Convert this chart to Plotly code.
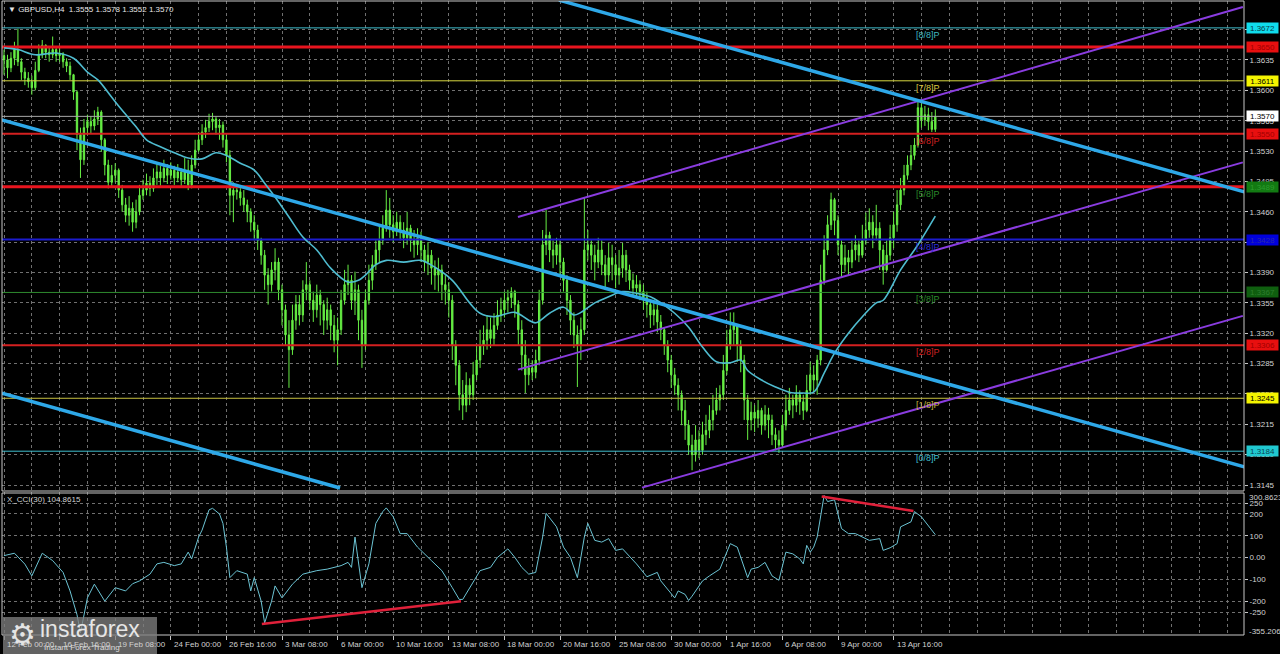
import plotly.graph_objects as go

# ---------------- DATA ----------------
first_open = 1.3640
closes = [
1.3635,1.3626,1.3637,1.3647,1.3633,1.3621,1.3614,1.3610,1.3603,1.3623,
1.3641,1.3652,1.3644,1.3641,1.3647,1.3640,1.3642,1.3633,1.3628,1.3618,
1.3598,1.3549,1.3520,1.3557,1.3564,1.3559,1.3567,1.3575,1.3543,1.3514,
1.3494,1.3502,1.3508,1.3485,1.3468,1.3456,1.3464,1.3448,1.3460,1.3479,
1.3485,1.3493,1.3487,1.3499,1.3506,1.3499,1.3510,1.3502,1.3508,1.3499,
1.3506,1.3497,1.3508,1.3491,1.3514,1.3531,1.3543,1.3552,1.3557,1.3564,
1.3567,1.3557,1.3560,1.3543,1.3525,1.3479,1.3485,1.3483,1.3476,1.3468,
1.3460,1.3448,1.3439,1.3427,1.3410,1.3387,1.3376,1.3393,1.3402,1.3370,
1.3347,1.3318,1.3301,1.3335,1.3353,1.3341,1.3370,1.3376,1.3358,1.3347,
1.3364,1.3353,1.3335,1.3347,1.3329,1.3312,1.3324,1.3358,1.3376,1.3381,
1.3358,1.3370,1.3335,1.3306,1.3358,1.3381,1.3399,1.3416,1.3427,1.3441,
1.3462,1.3445,1.3437,1.3448,1.3439,1.3430,1.3441,1.3427,1.3422,1.3430,
1.3416,1.3402,1.3410,1.3395,1.3387,1.3393,1.3376,1.3370,1.3358,1.3306,
1.3283,1.3249,1.3237,1.3260,1.3249,1.3272,1.3289,1.3306,1.3312,1.3324,
1.3314,1.3329,1.3341,1.3347,1.3358,1.3361,1.3368,1.3353,1.3324,1.3295,
1.3272,1.3280,1.3275,1.3289,1.3358,1.3422,1.3433,1.3416,1.3410,1.3422,
1.3402,1.3381,1.3358,1.3335,1.3318,1.3306,1.3324,1.3416,1.3422,1.3410,
1.3402,1.3416,1.3399,1.3387,1.3407,1.3399,1.3387,1.3395,1.3410,1.3393,
1.3381,1.3372,1.3376,1.3368,1.3361,1.3353,1.3341,1.3347,1.3333,1.3324,
1.3306,1.3289,1.3272,1.3260,1.3249,1.3231,1.3214,1.3191,1.3180,1.3197,
1.3185,1.3203,1.3208,1.3220,1.3231,1.3243,1.3249,1.3277,1.3306,1.3324,
1.3329,1.3306,1.3289,1.3243,1.3220,1.3229,1.3222,1.3231,1.3214,1.3226,
1.3220,1.3203,1.3197,1.3191,1.3214,1.3231,1.3243,1.3237,1.3249,1.3241,
1.3231,1.3254,1.3272,1.3266,1.3289,1.3381,1.3416,1.3445,1.3474,1.3450,
1.3422,1.3399,1.3407,1.3402,1.3416,1.3422,1.3410,1.3427,1.3439,1.3448,
1.3433,1.3441,1.3416,1.3393,1.3410,1.3430,1.3445,1.3468,1.3485,1.3502,
1.3514,1.3525,1.3537,1.3580,1.3566,1.3572,1.3564,1.3555,1.3570]
highs = [
1.3647,1.3641,1.3644,1.3656,1.3671,1.3637,1.3626,1.3621,1.3617,1.3633,
1.3653,1.3658,1.3653,1.3649,1.3662,1.3651,1.3649,1.3644,1.3637,1.3633,
1.3619,1.3600,1.3557,1.3567,1.3572,1.3570,1.3577,1.3581,1.3577,1.3545,
1.3520,1.3514,1.3516,1.3510,1.3491,1.3476,1.3478,1.3471,1.3474,1.3491,
1.3497,1.3504,1.3501,1.3510,1.3517,1.3513,1.3520,1.3515,1.3517,1.3513,
1.3515,1.3510,1.3522,1.3520,1.3525,1.3543,1.3552,1.3561,1.3566,1.3573,
1.3574,1.3570,1.3567,1.3564,1.3549,1.3531,1.3494,1.3492,1.3490,1.3485,
1.3474,1.3464,1.3456,1.3445,1.3430,1.3416,1.3395,1.3402,1.3418,1.3407,
1.3376,1.3353,1.3335,1.3353,1.3364,1.3364,1.3381,1.3402,1.3381,1.3368,
1.3376,1.3370,1.3358,1.3361,1.3353,1.3341,1.3338,1.3370,1.3393,1.3399,
1.3387,1.3391,1.3376,1.3347,1.3370,1.3399,1.3410,1.3427,1.3445,1.3456,
1.3485,1.3476,1.3456,1.3460,1.3456,1.3448,1.3460,1.3445,1.3439,1.3441,
1.3437,1.3422,1.3425,1.3416,1.3404,1.3407,1.3399,1.3387,1.3379,1.3364,
1.3312,1.3289,1.3266,1.3275,1.3268,1.3287,1.3306,1.3324,1.3329,1.3341,
1.3338,1.3343,1.3358,1.3361,1.3368,1.3370,1.3373,1.3370,1.3358,1.3335,
1.3312,1.3291,1.3289,1.3301,1.3370,1.3439,1.3462,1.3437,1.3427,1.3430,
1.3427,1.3407,1.3387,1.3364,1.3344,1.3329,1.3338,1.3477,1.3439,1.3427,
1.3422,1.3430,1.3427,1.3410,1.3424,1.3422,1.3410,1.3416,1.3424,1.3416,
1.3399,1.3389,1.3387,1.3381,1.3376,1.3368,1.3358,1.3358,1.3353,1.3341,
1.3326,1.3312,1.3295,1.3280,1.3268,1.3254,1.3243,1.3220,1.3203,1.3214,
1.3208,1.3218,1.3226,1.3237,1.3249,1.3257,1.3260,1.3295,1.3324,1.3344,
1.3344,1.3329,1.3312,1.3295,1.3249,1.3241,1.3237,1.3243,1.3234,1.3237,
1.3234,1.3226,1.3211,1.3208,1.3226,1.3249,1.3257,1.3249,1.3260,1.3254,
1.3249,1.3272,1.3287,1.3283,1.3295,1.3399,1.3433,1.3456,1.3482,1.3476,
1.3456,1.3427,1.3422,1.3416,1.3427,1.3433,1.3427,1.3445,1.3459,1.3464,
1.3456,1.3468,1.3448,1.3422,1.3427,1.3445,1.3460,1.3485,1.3499,1.3514,
1.3525,1.3537,1.3545,1.3589,1.3585,1.3582,1.3580,1.3575,1.3578]
lows = [
1.3618,1.3614,1.3621,1.3629,1.3628,1.3612,1.3606,1.3603,1.3595,1.3600,
1.3621,1.3637,1.3637,1.3633,1.3637,1.3633,1.3633,1.3626,1.3621,1.3612,
1.3589,1.3531,1.3499,1.3514,1.3549,1.3550,1.3554,1.3560,1.3529,1.3502,
1.3487,1.3490,1.3494,1.3476,1.3460,1.3448,1.3444,1.3437,1.3441,1.3456,
1.3474,1.3479,1.3478,1.3483,1.3491,1.3490,1.3494,1.3492,1.3497,1.3491,
1.3494,1.3490,1.3492,1.3485,1.3487,1.3510,1.3529,1.3537,1.3545,1.3552,
1.3554,1.3549,1.3543,1.3534,1.3517,1.3456,1.3448,1.3474,1.3467,1.3460,
1.3448,1.3437,1.3427,1.3416,1.3399,1.3370,1.3353,1.3368,1.3381,1.3358,
1.3329,1.3306,1.3257,1.3295,1.3324,1.3329,1.3333,1.3358,1.3347,1.3333,
1.3338,1.3329,1.3318,1.3324,1.3312,1.3298,1.3283,1.3318,1.3353,1.3364,
1.3347,1.3341,1.3312,1.3280,1.3301,1.3353,1.3370,1.3393,1.3402,1.3422,
1.3437,1.3430,1.3425,1.3432,1.3427,1.3418,1.3422,1.3414,1.3407,1.3410,
1.3402,1.3391,1.3387,1.3376,1.3370,1.3368,1.3358,1.3353,1.3338,1.3289,
1.3260,1.3231,1.3220,1.3229,1.3237,1.3243,1.3266,1.3280,1.3295,1.3301,
1.3303,1.3306,1.3324,1.3333,1.3338,1.3344,1.3349,1.3338,1.3306,1.3277,
1.3251,1.3260,1.3266,1.3268,1.3283,1.3353,1.3410,1.3402,1.3395,1.3399,
1.3387,1.3368,1.3341,1.3318,1.3303,1.3258,1.3289,1.3318,1.3404,1.3393,
1.3381,1.3395,1.3387,1.3370,1.3379,1.3381,1.3372,1.3376,1.3384,1.3379,
1.3370,1.3362,1.3363,1.3358,1.3347,1.3338,1.3326,1.3329,1.3321,1.3312,
1.3295,1.3275,1.3257,1.3249,1.3231,1.3214,1.3197,1.3180,1.3162,1.3172,
1.3176,1.3180,1.3191,1.3199,1.3208,1.3226,1.3231,1.3243,1.3272,1.3301,
1.3306,1.3287,1.3275,1.3220,1.3197,1.3208,1.3206,1.3211,1.3203,1.3208,
1.3199,1.3191,1.3185,1.3182,1.3188,1.3208,1.3226,1.3222,1.3229,1.3226,
1.3220,1.3229,1.3249,1.3252,1.3249,1.3283,1.3376,1.3410,1.3439,1.3433,
1.3410,1.3385,1.3391,1.3387,1.3395,1.3404,1.3402,1.3407,1.3422,1.3430,
1.3418,1.3427,1.3393,1.3376,1.3391,1.3404,1.3418,1.3437,1.3462,1.3479,
1.3497,1.3508,1.3520,1.3534,1.3557,1.3559,1.3554,1.3552,1.3552]

ma_bars = [0,4,9,15,20,24,27,31,34,38,41,45,49,53,57,61,64,68,72,75,78,82,86,90,94,
           99,102,104,107,110,115,120,124,129,134,137,141,147,151,153,157,161,164,166,170,
           174,178,182,186,189,193,197,201,205,209,212,214,218,222,226,230,233,236,239,243,
           247,251,253,258,263,268]
ma_vals = [1.3649,1.3647,1.3641,1.3643,1.3637,1.3621,1.3612,1.3592,1.3577,1.3558,
           1.3543,1.3535,1.3528,1.3522,1.3521,1.3528,1.3525,1.3516,1.3508,1.3493,
           1.3477,1.3454,1.3431,1.3416,1.3395,1.3379,1.3381,1.3387,1.3399,1.3404,
           1.3402,1.3404,1.3396,1.3381,1.3355,1.3343,1.3339,1.3344,1.3335,1.3332,
           1.3343,1.3350,1.3341,1.3344,1.3355,1.3362,1.3368,1.3366,1.3362,1.3355,
           1.3343,1.3327,1.3304,1.3287,1.3286,1.3289,1.3277,1.3266,1.3258,1.3252,
           1.3251,1.3252,1.3274,1.3297,1.3320,1.3339,1.3355,1.3358,1.3393,1.3422,1.3455]

cci_bars = [0,3,6,8,11,14,17,19,21,22,24,26,29,32,35,37,39,42,44,46,
            49,51,53,54,56,57,59,60,62,63,64,65,67,70,71,72,74,75,77,78,
            80,83,86,90,93,97,99,100,101,103,105,107,109,110,112,114,116,119,123,126,
            129,131,132,134,137,140,142,145,147,149,151,153,155,156,159,161,163,165,167,168,
            170,172,174,176,178,182,185,188,189,193,194,196,197,198,201,203,206,209,211,214,
            215,217,219,221,223,225,227,229,230,231,232,233,234,236,237,239,241,243,245,249,
            252,253,255,257,258,261,262,264,268]
cci_vals = [9,20,-30,-84,20,-14,-68,-153,-262,-345,-185,-122,-200,-138,-153,-120,-107,-76,-29,-22,
            -37,-29,25,-6,94,126,219,226,200,157,48,-92,-60,-76,-153,-92,-200,-300,-200,-130,
            -185,-122,-76,-60,-53,-37,-22,-45,94,-138,-29,157,211,228,187,110,110,48,-14,-60,
            -138,-192,-192,-138,-60,-45,1,40,1,-45,-76,-68,94,203,141,48,1,-92,94,157,
            79,71,87,33,40,-29,-88,-68,-107,-185,-153,-169,-197,-177,-107,-84,-53,64,48,-92,
            -53,-45,-22,-84,-104,25,17,-6,-29,56,25,48,94,285,257,265,133,110,110,79,
            87,33,45,64,141,164,211,187,105]
cci_last = "104.8615"
cci_max_label, cci_min_label = 300.8623, -355.206

murrey_levels = [1.3184, 1.3245, 1.3306, 1.3367, 1.3428, 1.3489, 1.3550, 1.3611, 1.3672]
murrey_names = ["[0/8]P", "[1/8]P", "[2/8]P", "[3/8]P", "[4/8]P", "[5/8]P", "[6/8]P", "[7/8]P", "[8/8]P"]
key_levels = [1.3650, 1.3489]
bid_price = 1.3570

# trend lines as (bar, price) anchor pairs
cyan_k = [[159.7, 356.9], [-0.6, 356.9], [-0.6, 96.7]]
cyan_p = [[1.3704, 1.3483], [1.3566, 1.3166], [1.3251, 1.31415]]
purple_k = [[147.9, 356.5], [147.9, 356.5], [183.6, 356.5]]
purple_p = [[1.3454, 1.3696], [1.3278, 1.3517], [1.3142, 1.3340]]
div_k = [[74.2, 131.5], [235.3, 261.7]]
div_v = [[-305, -200], [280, 214]]

price_ticks = [1.3670, 1.3635, 1.3600, 1.3565, 1.3530, 1.3495, 1.3460, 1.3425, 1.3390,
               1.3355, 1.3320, 1.3285, 1.3250, 1.3215, 1.3180, 1.3145]
cci_ticks = [250, 200, 100, 0, -100, -200, -250]
cci_ticktext = ["250", "200", "100", "0.00", "-100", "-200", "-250"]
date_bars = [0, 16, 32, 48, 64, 80, 96, 112, 128, 144, 160, 176, 192, 208, 224, 240, 256]
date_labels = ["12 Feb 00:00", "16 Feb 16:00", "19 Feb 08:00", "24 Feb 00:00", "26 Feb 16:00",
               "3 Mar 08:00", "6 Mar 00:00", "10 Mar 16:00", "13 Mar 08:00", "18 Mar 00:00",
               "20 Mar 16:00", "25 Mar 08:00", "30 Mar 00:00", "1 Apr 16:00", "6 Apr 08:00",
               "9 Apr 00:00", "13 Apr 16:00"]
header = "▼ GBPUSD,H4  1.3555 1.3578 1.3552 1.3570"

# ---------------- STYLE ----------------
W, H = 1280, 654
def px(x): return x / W
def py(y): return 1 - y / H

FONT = "Liberation Sans, Arial, sans-serif"
TXT = "#d2d2d2"
GRID = "#707070"
CANDLE = "#66ee44"
X_RANGE = [-0.58, 356.83]
Y_RANGE = [1.31381, 1.37030]
C_RANGE = [cci_min_label, cci_max_label]

murrey_line_colors = ["#3fbfcf", "#c8c040", "#d42020", "#2e8b2e", "#1c1ccd",
                      "#2e8b2e", "#d42020", "#d8d840", "#3fbfcf"]
murrey_widths = [1, 1, 2, 1, 2, 1, 2, 1, 1]
murrey_text_colors = ["#3fbfcf", "#c8b840", "#d42020", "#2a8a2a", "#2a2ad8",
                      "#2a8a2a", "#d42020", "#d8c840", "#3fb8c0"]

opens = [first_open] + closes[:-1]
bars = list(range(len(closes)))

fig = go.Figure()

fig.add_trace(go.Candlestick(
    x=bars, open=opens, high=highs, low=lows, close=closes,
    increasing=dict(line=dict(color=CANDLE, width=1), fillcolor=CANDLE),
    decreasing=dict(line=dict(color=CANDLE, width=1), fillcolor=CANDLE),
    whiskerwidth=0, xaxis="x", yaxis="y", hoverinfo="skip"))

for lvl, col, wd in zip(murrey_levels, murrey_line_colors, murrey_widths):
    fig.add_trace(go.Scatter(x=X_RANGE, y=[lvl, lvl], mode="lines",
                             line=dict(color=col, width=wd), xaxis="x", yaxis="y", hoverinfo="skip"))

fig.add_trace(go.Scatter(x=X_RANGE, y=[bid_price, bid_price], mode="lines",
                         line=dict(color="#a8a8a8", width=1), xaxis="x", yaxis="y", hoverinfo="skip"))

for lvl in key_levels:
    fig.add_trace(go.Scatter(x=X_RANGE, y=[lvl, lvl], mode="lines",
                             line=dict(color="#e8141e", width=3), xaxis="x", yaxis="y", hoverinfo="skip"))

fig.add_trace(go.Scatter(x=ma_bars, y=ma_vals, mode="lines", line=dict(color="#4fbcd0", width=1.6, shape="spline"),
                         xaxis="x", yaxis="y", hoverinfo="skip"))

for kk, pp in zip(purple_k, purple_p):
    fig.add_trace(go.Scatter(x=kk, y=pp, mode="lines", line=dict(color="#8a3ce0", width=2),
                             xaxis="x", yaxis="y", hoverinfo="skip"))
for kk, pp in zip(cyan_k, cyan_p):
    fig.add_trace(go.Scatter(x=kk, y=pp, mode="lines", line=dict(color="#2ea8e8", width=3.5),
                             xaxis="x", yaxis="y", hoverinfo="skip"))

# CCI
fig.add_trace(go.Scatter(x=cci_bars, y=cci_vals, mode="lines", line=dict(color="#6cc4d4", width=1),
                         xaxis="x2", yaxis="y2", hoverinfo="skip"))
for kk, vv in zip(div_k, div_v):
    fig.add_trace(go.Scatter(x=kk, y=vv, mode="lines", line=dict(color="#e0203a", width=2.5),
                             xaxis="x2", yaxis="y2", hoverinfo="skip"))

annotations = []
for lvl, name, col in zip(murrey_levels, murrey_names, murrey_text_colors):
    annotations.append(dict(x=266, y=lvl, xref="x", yref="y", text=name, showarrow=False,
                            xanchor="center", yanchor="top", font=dict(family=FONT, size=9, color=col)))

boxes = [(1.3672, "#10dcec", "#0a3c48"), (1.3650, "#e80f0f", "#a00000"), (1.3611, "#f4f400", "#000000"),
         (1.3570, "#ffffff", "#000000"), (1.3550, "#e80f0f", "#a00000"), (1.3489, "#127a12", "#2e9a2e"),
         (1.3428, "#0000dc", "#2a2aa8"), (1.3367, "#0f5f0f", "#2e7e2e"), (1.3306, "#e80f0f", "#a00000"),
         (1.3245, "#f4f400", "#000000"), (1.3184, "#20c8d0", "#0a4450")]
for val, bg, fc in boxes:
    annotations.append(dict(x=px(1246), y=val, xref="paper", yref="y", text=f"{val:.4f}", showarrow=False,
                            xanchor="left", yanchor="middle", bgcolor=bg, width=31, height=10, borderpad=0,
                            font=dict(family=FONT, size=8, color=fc)))

annotations.append(dict(x=px(1247), y=py(497), xref="paper", yref="paper", text=f"{cci_max_label}",
                        showarrow=False, xanchor="left", yanchor="middle", font=dict(family=FONT, size=8, color=TXT)))
annotations.append(dict(x=px(1247), y=py(631), xref="paper", yref="paper", text=f"{cci_min_label}",
                        showarrow=False, xanchor="left", yanchor="middle", font=dict(family=FONT, size=8, color=TXT)))

for b, lab in zip(date_bars, date_labels):
    annotations.append(dict(x=b, y=py(644), xref="x2", yref="paper", text=lab, showarrow=False,
                            xanchor="left", yanchor="middle", xshift=1, font=dict(family=FONT, size=8, color=TXT)))

annotations.append(dict(x=px(6), y=py(9), xref="paper", yref="paper", text=header, showarrow=False,
                        xanchor="left", yanchor="middle", font=dict(family=FONT, size=8, color="#e6e6e6")))
annotations.append(dict(x=px(5), y=py(499), xref="paper", yref="paper", text=f"X_CCI(30) {cci_last}",
                        showarrow=False, xanchor="left", yanchor="middle", font=dict(family=FONT, size=8, color=TXT)))

annotations.append(dict(x=px(22), y=py(634), xref="paper", yref="paper", text="⚙", showarrow=False,
                        xanchor="center", yanchor="middle", font=dict(family="DejaVu Sans", size=30, color="#e4e4e4")))
annotations.append(dict(x=px(38), y=py(629), xref="paper", yref="paper", text="instaforex", showarrow=False,
                        xanchor="left", yanchor="middle", font=dict(family=FONT, size=23, color="#e6e6e6")))
annotations.append(dict(x=px(42), y=py(647), xref="paper", yref="paper", text="Instant Forex Trading",
                        showarrow=False, xanchor="left", yanchor="middle", font=dict(family=FONT, size=8, color="#dcdcdc")))

shapes = [
    dict(type="rect", xref="paper", yref="paper", x0=px(2), x1=px(1244), y0=py(491), y1=py(1),
         line=dict(color="#c8c8c8", width=1), fillcolor="rgba(0,0,0,0)", layer="above"),
    dict(type="rect", xref="paper", yref="paper", x0=px(2), x1=px(1244), y0=py(635), y1=py(493),
         line=dict(color="#c8c8c8", width=1), fillcolor="rgba(0,0,0,0)", layer="above"),
    dict(type="rect", xref="paper", yref="paper", x0=px(3), x1=px(157), y0=py(654), y1=py(617),
         line=dict(width=0), fillcolor="rgba(125,125,125,0.78)", layer="above"),
]

fig.update_layout(
    width=W, height=H, margin=dict(l=0, r=0, t=0, b=0),
    paper_bgcolor="#000000", plot_bgcolor="#000000",
    showlegend=False, hovermode=False, boxgap=0.45,
    annotations=annotations, shapes=shapes,
    xaxis=dict(domain=[px(2), px(1244)], range=X_RANGE, anchor="y", showticklabels=False,
               tickmode="linear", tick0=0, dtick=8, ticks="", showgrid=True, gridcolor=GRID,
               griddash="3px,3px", gridwidth=1, zeroline=False, rangeslider=dict(visible=False),
               fixedrange=True),
    xaxis2=dict(domain=[px(2), px(1244)], range=X_RANGE, anchor="y2", matches="x", showticklabels=False,
                tickmode="array", tickvals=date_bars, ticks="outside", ticklen=4, tickcolor="#c8c8c8",
                showgrid=True, gridcolor=GRID, griddash="3px,3px", gridwidth=1, zeroline=False,
                minor=dict(tick0=0, dtick=8, showgrid=True, gridcolor=GRID, griddash="3px,3px", ticks=""),
                rangeslider=dict(visible=False), fixedrange=True),
    yaxis=dict(domain=[py(491), py(1)], range=Y_RANGE, anchor="x", side="right",
               tickmode="array", tickvals=price_ticks, ticktext=[f"{t:.4f}" for t in price_ticks],
               tickfont=dict(family=FONT, size=8, color=TXT), ticks="outside", ticklen=3, tickcolor="#c8c8c8",
               showgrid=True, gridcolor=GRID, griddash="3px,3px", zeroline=False, automargin=False,
               fixedrange=True),
    yaxis2=dict(domain=[py(635), py(492)], range=C_RANGE, anchor="x2", side="right",
                tickmode="array", tickvals=cci_ticks, ticktext=cci_ticktext,
                tickfont=dict(family=FONT, size=8, color=TXT), ticks="outside", ticklen=3, tickcolor="#c8c8c8",
                showgrid=True, gridcolor=GRID, griddash="3px,3px", zeroline=False, automargin=False,
                fixedrange=True),
)

fig.write_html("out.html", config={"displayModeBar": False, "staticPlot": True},
               post_script="document.body.style.margin='0px';document.body.style.padding='0px';"
                           "document.body.style.overflow='hidden';document.body.style.background='#000';")
